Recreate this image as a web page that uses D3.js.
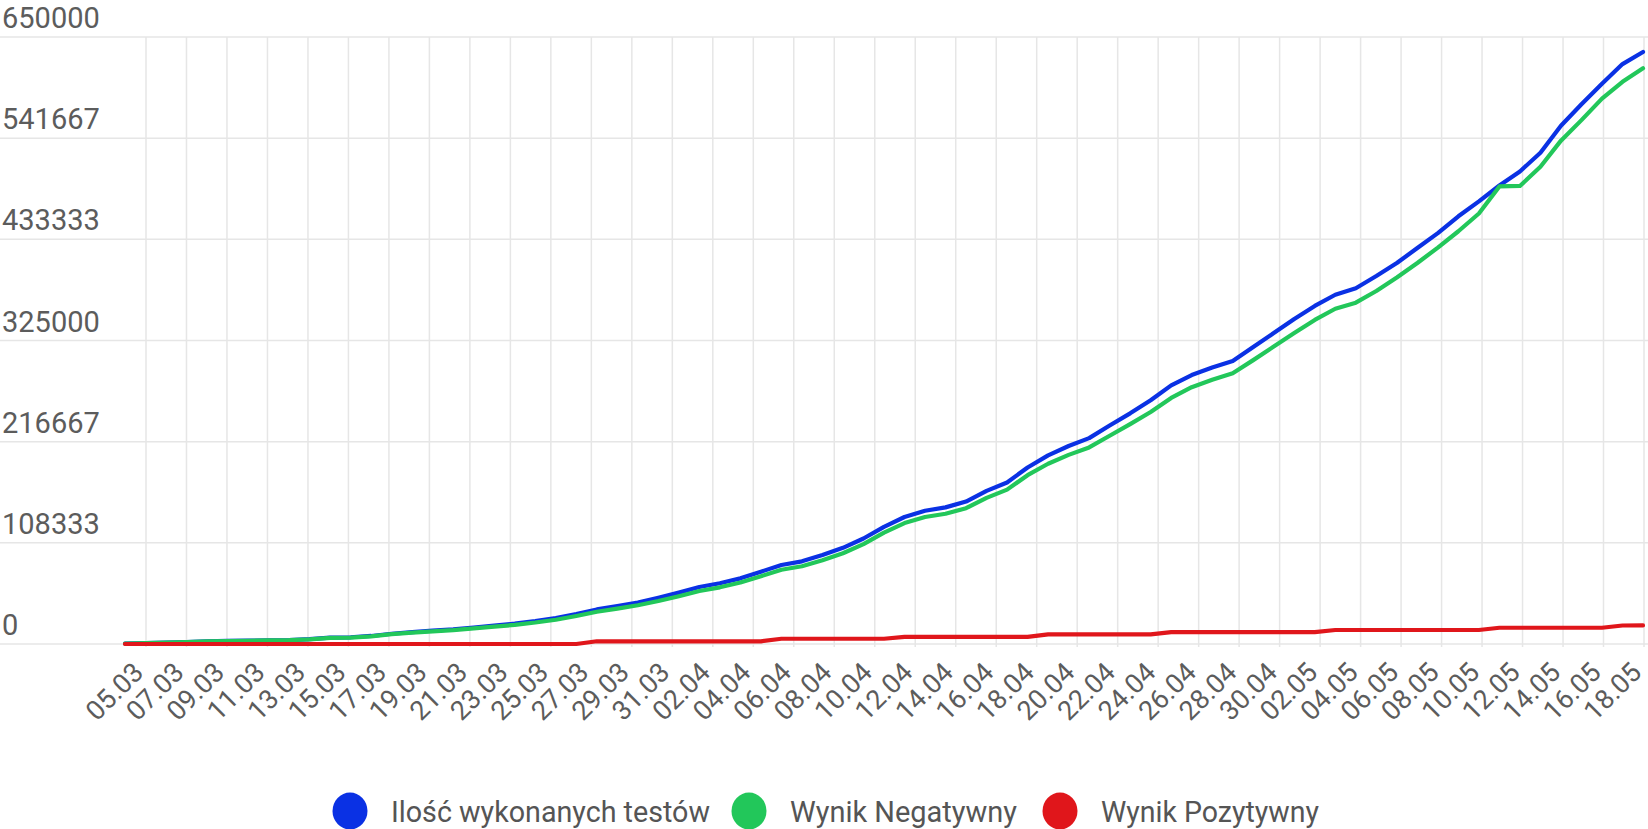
<!DOCTYPE html>
<html><head><meta charset="utf-8">
<script src="https://cdn.jsdelivr.net/npm/d3@7"></script>
<style>
body{margin:0;background:#fff;}
svg{display:block;font-family:Roboto,"Noto Sans",sans-serif;}
</style>
</head><body>
<svg id="c" width="1648" height="829"></svg>
<script>
const dates = ["05.03","06.03","07.03","08.03","09.03","10.03","11.03","12.03","13.03","14.03","15.03","16.03","17.03","18.03","19.03","20.03","21.03","22.03","23.03","24.03","25.03","26.03","27.03","28.03","29.03","30.03","31.03","01.04","02.04","03.04","04.04","05.04","06.04","07.04","08.04","09.04","10.04","11.04","12.04","13.04","14.04","15.04","16.04","17.04","18.04","19.04","20.04","21.04","22.04","23.04","24.04","25.04","26.04","27.04","28.04","29.04","30.04","01.05","02.05","03.05","04.05","05.05","06.05","07.05","08.05","09.05","10.05","11.05","12.05","13.05","14.05","15.05","16.05","17.05","18.05"];

const tests = [500,900,1400,2000,2900,3300,3600,3900,4200,5200,6800,7200,8600,11000,12800,14300,15600,17600,19700,21800,24500,27800,32000,37000,40500,44500,49500,55000,61000,65000,70300,77400,84600,88500,95200,103000,113000,125500,136000,142700,146300,152500,164000,173000,189000,202000,212000,220500,234000,247000,261000,277000,288000,296000,303000,318000,333000,348000,362000,374000,381000,394000,408000,424000,440000,458000,474000,491000,506000,526000,555000,578000,600000,621000,634000];

const negative = [500,900,1400,2000,2800,3200,3500,3800,4100,5000,6500,6900,8200,10500,12200,13600,14800,16700,18600,20500,23000,26000,30000,34500,37800,41500,46000,51200,56800,60700,65800,72600,79500,83200,89600,97200,107000,119200,129500,136000,139500,145400,156500,165300,180800,193000,202500,210500,223000,235500,248500,263500,275000,283000,290000,304000,318500,333000,347000,359000,365500,378000,392500,408000,424500,442000,461000,490000,490500,511000,539000,561000,584000,602000,616500];

const positive = [0,0,0,0,0,0,0,0,0,0,0,0,0,0,0,0,0,0,0,0,0,0,0,2900,2900,2900,2900,2900,2900,2900,2900,2900,5600,5600,5600,5600,5600,5600,7600,7600,7600,7600,7600,7600,7600,10300,10300,10300,10300,10300,10300,12800,12800,12800,12800,12800,12800,12800,12800,15000,15000,15000,15000,15000,15000,15000,15000,17400,17400,17400,17400,17400,17400,19800,19900];

const xTickLabels = ["05.03","07.03","09.03","11.03","13.03","15.03","17.03","19.03","21.03","23.03","25.03","27.03","29.03","31.03","02.04","04.04","06.04","08.04","10.04","12.04","14.04","16.04","18.04","20.04","22.04","24.04","26.04","28.04","30.04","02.05","04.05","06.05","08.05","10.05","12.05","14.05","16.05","18.05"];

const yTicks = [0,108333,216667,325000,433333,541667,650000];

const seriesNames = ["Ilość wykonanych testów","Wynik Negatywny","Wynik Pozytywny"];
const seriesColors = ["#0a31e4","#22c75a","#e0161b"];
const seriesData = [tests, negative, positive];

const W = 1648, H = 829;
const svg = d3.select("#c");
svg.append("rect").attr("width",W).attr("height",H).attr("fill","#fff");

const y = d3.scaleLinear().domain([0,650000]).range([644,37]);
const x = d3.scalePoint().domain(dates).range([125,1643]);
const xt = d3.scalePoint().domain(xTickLabels).range([146,1644]);

// horizontal grid
svg.append("g").selectAll("line").data(yTicks).join("line")
  .attr("x1",0).attr("x2",W)
  .attr("y1",d=>y(d)).attr("y2",d=>y(d))
  .attr("stroke","#e6e6e6").attr("stroke-width",1.5);

// vertical grid
svg.append("g").selectAll("line").data(xTickLabels).join("line")
  .attr("x1",d=>xt(d)).attr("x2",d=>xt(d))
  .attr("y1",y(650000)).attr("y2",y(0)+3)
  .attr("stroke","#e6e6e6").attr("stroke-width",1.5);

// y labels
svg.append("g").selectAll("text").data(yTicks).join("text")
  .attr("x",2).attr("y",d=>y(d)-9)
  .attr("font-size",29).attr("fill","#5c5c5c")
  .text(d=>d);

// x labels
svg.append("g").selectAll("text").data(xTickLabels).join("text")
  .attr("transform",d=>`translate(${xt(d)-1},674) rotate(-45)`)
  .attr("text-anchor","end")
  .attr("font-size",27).attr("fill","#5c5c5c")
  .text(d=>d);

// lines
const line = d3.line().x((d,i)=>x(dates[i])).y(d=>y(d));
svg.append("g").selectAll("path").data(seriesData).join("path")
  .attr("d",d=>line(d))
  .attr("fill","none")
  .attr("stroke",(d,i)=>seriesColors[i])
  .attr("stroke-width",4.2)
  .attr("stroke-linejoin","round")
  .attr("stroke-linecap","round");

// legend
const legendCx = [350,749,1060];
const legendTx = [391,790,1101];
const legendW = [319,227,218];
const lg = svg.append("g");
seriesNames.forEach((n,i)=>{
  lg.append("ellipse").attr("cx",legendCx[i]).attr("cy",811).attr("rx",17.5).attr("ry",18.5).attr("fill",seriesColors[i]);
  lg.append("text").attr("x",legendTx[i]).attr("y",822)
    .attr("font-size",30).attr("fill","#555")
    .attr("textLength",legendW[i]).attr("lengthAdjust","spacingAndGlyphs")
    .text(n);
});
</script>
</body></html>
